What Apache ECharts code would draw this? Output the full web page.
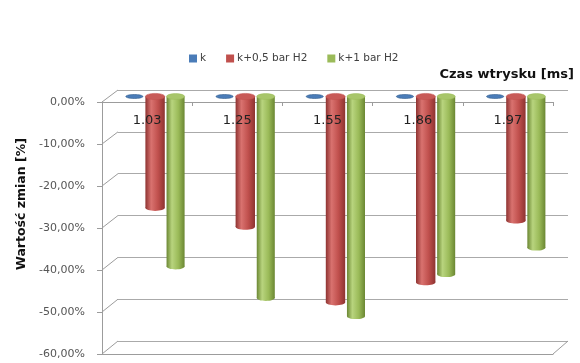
<!DOCTYPE html>
<html>
<head>
<meta charset="utf-8">
<script src="https://cdn.jsdelivr.net/npm/echarts@6/dist/echarts.min.js"></script>
<style>
  html, body { margin: 0; padding: 0; background: #ffffff; }
  #chart { width: 580px; height: 363px; }
</style>
</head>
<body>
<div id="chart"></div>
<script>
// Injection time categories [ms]
const categories = ['1.03', '1.25', '1.55', '1.86', '1.97'];

// Change values [%] per series
const seriesK = [0, 0, 0, 0, 0];
const seriesH05 = [-26.5, -31, -49, -44.2, -29.5];
const seriesH1 = [-40.5, -48, -52.3, -42.3, -36];

const seriesNames = ['k', 'k+0,5 bar H2', 'k+1 bar H2'];

// Value axis ticks
const yTickValues = [0, -10, -20, -30, -40, -50, -60];
const yTickLabels = ['0,00%', '-10,00%', '-20,00%', '-30,00%', '-40,00%', '-50,00%', '-60,00%'];

// Pseudo-3D layout: front frame, back wall, and the mid-depth plane for the cylinders
const FRONT = { left: 102, top: 102, width: 451, height: 252 };
const BACK = { left: 118, top: 90, width: 450, height: 251 };
const BARS = { left: 110, top: 96.5, width: 451, height: 252 };

const FONT = 'DejaVu Sans';
const FRAME = '#9c9c9c';

const chart = echarts.init(document.getElementById('chart'), null, { renderer: 'canvas' });

function cylinder(offsetFrac, widthFrac, pal) {
  return function (params, api) {
    const idx = api.value(0);
    const v = api.value(1);
    const base = api.coord([idx, 0]);
    const tip = api.coord([idx, v]);
    const band = api.size([1, 0])[0];
    const w = band * widthFrac;
    const cx = base[0] + band * offsetFrac;
    const x = cx - w / 2;
    const ry = w * 0.16;
    const grad = new echarts.graphic.LinearGradient(0, 0, 1, 0, [
      { offset: 0, color: pal.dark },
      { offset: 0.3, color: pal.light },
      { offset: 0.65, color: pal.base },
      { offset: 1, color: pal.dark }
    ]);
    return {
      type: 'group',
      children: [
        { type: 'rect', shape: { x: x, y: base[1], width: w, height: tip[1] - base[1] }, style: { fill: grad } },
        { type: 'ellipse', shape: { cx: cx, cy: tip[1], rx: w / 2, ry: ry }, style: { fill: grad } },
        { type: 'ellipse', shape: { cx: cx, cy: base[1], rx: w / 2, ry: ry }, style: { fill: pal.top, stroke: pal.base, lineWidth: 0.5 } }
      ]
    };
  };
}

function disk(offsetFrac, widthFrac, pal) {
  return function (params, api) {
    const idx = api.value(0);
    const v = api.value(1);
    const tip = api.coord([idx, v]);
    const band = api.size([1, 0])[0];
    const w = band * widthFrac;
    const cx = tip[0] + band * offsetFrac;
    return {
      type: 'ellipse',
      shape: { cx: cx, cy: tip[1], rx: w / 2, ry: 2 },
      style: { fill: pal.base, stroke: pal.dark, lineWidth: 0.6 }
    };
  };
}

const palK = { base: '#4a7cb8', dark: '#2f5a8c' };
const palH05 = { base: '#c0504d', dark: '#8e3331', light: '#d9726f', top: '#c85a57' };
const palH1 = { base: '#9bbb59', dark: '#6b8733', light: '#b8d47e', top: '#a8c66a' };

const toPairs = arr => arr.map((v, i) => [i, v]);

const option = {
  backgroundColor: '#ffffff',
  animation: false,
  textStyle: { fontFamily: FONT },
  legend: {
    left: 184,
    top: 48,
    itemWidth: 8,
    itemHeight: 8,
    itemGap: 20,
    textStyle: { fontFamily: FONT, fontSize: 10.5, color: '#404040', padding: [0, 0, 0, -2] },
    data: [
      { name: seriesNames[0], icon: 'rect', itemStyle: { color: palK.base } },
      { name: seriesNames[1], icon: 'rect', itemStyle: { color: palH05.base } },
      { name: seriesNames[2], icon: 'rect', itemStyle: { color: palH1.base } }
    ]
  },
  grid: [
    Object.assign({ containLabel: false }, FRONT),
    Object.assign({ containLabel: false }, BACK),
    Object.assign({ containLabel: false }, BARS)
  ],
  xAxis: [
    { // front top edge with category ticks
      gridIndex: 0, type: 'category', data: categories, position: 'top', z: 0,
      axisLine: { show: true, onZero: false, lineStyle: { color: FRAME, width: 1 } },
      axisTick: { show: true, inside: true, length: 4, lineStyle: { color: FRAME } },
      axisLabel: { show: false }, splitLine: { show: false }
    },
    { // category labels, drawn above the cylinders
      gridIndex: 0, type: 'category', data: categories, position: 'top', z: 10,
      axisLine: { show: false }, axisTick: { show: false }, splitLine: { show: false },
      axisLabel: { show: true, inside: true, margin: 12, fontFamily: FONT, fontSize: 13, color: '#222222' }
    },
    { // front floor edge
      gridIndex: 0, type: 'category', data: categories, position: 'bottom', z: 0,
      axisLine: { show: true, onZero: false, lineStyle: { color: FRAME, width: 1 } },
      axisTick: { show: false }, axisLabel: { show: false }, splitLine: { show: false }
    },
    { gridIndex: 1, type: 'category', data: categories, show: false },
    { gridIndex: 2, type: 'category', data: categories, show: false }
  ],
  yAxis: [
    {
      gridIndex: 0, type: 'value', min: -60, max: 0, interval: 10,
      axisLine: { show: true, onZero: false, lineStyle: { color: FRAME, width: 1 } },
      axisTick: { show: true, length: 5, lineStyle: { color: FRAME } },
      splitLine: { show: false },
      axisLabel: {
        margin: 17, fontFamily: FONT, fontSize: 11, color: '#555555',
        formatter: v => yTickLabels[yTickValues.indexOf(v)]
      }
    },
    { // back wall gridlines
      gridIndex: 1, type: 'value', min: -60, max: 0, interval: 10,
      axisLine: { show: false }, axisTick: { show: false }, axisLabel: { show: false },
      splitLine: { show: true, lineStyle: { color: '#aaaaaa', width: 1 } }
    },
    { gridIndex: 2, type: 'value', min: -60, max: 0, interval: 10, show: false }
  ],
  series: [
    {
      name: seriesNames[0], type: 'custom', xAxisIndex: 4, yAxisIndex: 2, z: 3,
      itemStyle: { color: palK.base },
      encode: { x: 0, y: 1 },
      renderItem: disk(-0.23, 0.19, palK),
      data: toPairs(seriesK)
    },
    {
      name: seriesNames[1], type: 'custom', xAxisIndex: 4, yAxisIndex: 2, z: 3,
      itemStyle: { color: palH05.base },
      encode: { x: 0, y: 1 },
      renderItem: cylinder(0, 0.215, palH05),
      data: toPairs(seriesH05)
    },
    {
      name: seriesNames[2], type: 'custom', xAxisIndex: 4, yAxisIndex: 2, z: 3,
      itemStyle: { color: palH1.base },
      encode: { x: 0, y: 1 },
      renderItem: cylinder(0.227, 0.2, palH1),
      data: toPairs(seriesH1)
    }
  ],
  graphic: [
    {
      type: 'text', x: 22, y: 204, rotation: Math.PI / 2,
      style: { text: 'Wartość zmian [%]', fontFamily: FONT, fontSize: 12.5, fontWeight: 'bold', fill: '#111111', align: 'center', verticalAlign: 'middle' }
    },
    {
      type: 'text', x: 574, y: 75,
      style: { text: 'Czas wtrysku [ms]', fontFamily: FONT, fontSize: 13, fontWeight: 'bold', fill: '#111111', align: 'right', verticalAlign: 'middle' }
    }
  ]
};

chart.setOption(option);

// Side-wall and floor edges joining the front frame to the back wall
const edges = yTickValues.map(v => {
  const yf = chart.convertToPixel({ yAxisIndex: 0 }, v);
  const yb = chart.convertToPixel({ yAxisIndex: 1 }, v);
  return {
    type: 'line', z: 1,
    shape: { x1: FRONT.left, y1: yf, x2: BACK.left, y2: yb },
    style: { stroke: FRAME, lineWidth: 1 }
  };
});
const yfBottom = chart.convertToPixel({ yAxisIndex: 0 }, -60);
const ybBottom = chart.convertToPixel({ yAxisIndex: 1 }, -60);
edges.push({
  type: 'line', z: 1,
  shape: { x1: FRONT.left + FRONT.width, y1: yfBottom, x2: BACK.left + BACK.width, y2: ybBottom },
  style: { stroke: FRAME, lineWidth: 1 }
});

chart.setOption({ graphic: option.graphic.concat(edges) });
</script>
</body>
</html>
